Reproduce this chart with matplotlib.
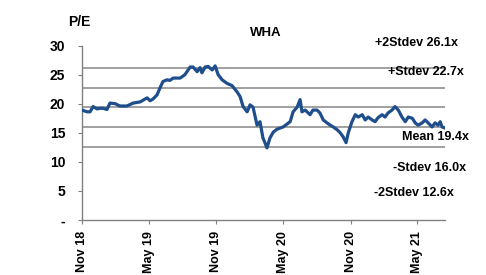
import numpy as np
import matplotlib
matplotlib.use("Agg")
import matplotlib.pyplot as plt
import matplotlib.dates as mdates

plt.rcParams['font.family'] = ['Liberation Sans', 'DejaVu Sans']

# P/E readings (dates, values)
dates = ["2018-11-01", "2018-11-15", "2018-11-23", "2018-12-01", "2018-12-12", "2018-12-20",
         "2018-12-28", "2019-01-08", "2019-01-16", "2019-01-30", "2019-02-12", "2019-03-03",
         "2019-03-20", "2019-04-08", "2019-04-27", "2019-05-05", "2019-05-13", "2019-05-24",
         "2019-06-01", "2019-06-09", "2019-06-20", "2019-06-28", "2019-07-07", "2019-07-26",
         "2019-08-08", "2019-08-22", "2019-08-30", "2019-09-10", "2019-09-18", "2019-09-23",
         "2019-10-02", "2019-10-10", "2019-10-21", "2019-10-29", "2019-11-06", "2019-11-17",
         "2019-11-30", "2019-12-14", "2019-12-28", "2020-01-05", "2020-01-13", "2020-01-24",
         "2020-02-01", "2020-02-09", "2020-02-20", "2020-02-28", "2020-03-07", "2020-03-13",
         "2020-03-18", "2020-03-26", "2020-04-04", "2020-04-14", "2020-05-01", "2020-05-20",
         "2020-05-28", "2020-06-08", "2020-06-16", "2020-06-21", "2020-06-30", "2020-07-13",
         "2020-07-21", "2020-08-01", "2020-08-09", "2020-08-18", "2020-08-28", "2020-09-06",
         "2020-09-14", "2020-09-25", "2020-10-03", "2020-10-11", "2020-10-19", "2020-10-25",
         "2020-11-04", "2020-11-13", "2020-11-21", "2020-12-02", "2020-12-10", "2020-12-18",
         "2020-12-29", "2021-01-06", "2021-01-14", "2021-01-25", "2021-02-02", "2021-02-10",
         "2021-02-21", "2021-03-01", "2021-03-10", "2021-03-20", "2021-03-29", "2021-04-06",
         "2021-04-17", "2021-04-25", "2021-05-03", "2021-05-14", "2021-05-22", "2021-05-30",
         "2021-06-10", "2021-06-18", "2021-06-26", "2021-07-02", "2021-07-07", "2021-07-15"]
pe = [18.9, 18.6, 18.6, 19.5, 19.1, 19.2,
      19.2, 19.0, 20.1, 20.0, 19.6, 19.6,
      20.1, 20.3, 21.0, 20.5, 20.8, 21.5,
      22.7, 23.8, 24.1, 24.0, 24.4, 24.4,
      25.0, 26.3, 26.3, 25.5, 26.2, 25.3,
      26.3, 26.4, 25.8, 26.5, 25.0, 24.1,
      23.5, 23.1, 22.0, 21.2, 19.5, 18.6,
      19.8, 19.4, 16.3, 16.9, 14.1, 13.2,
      12.4, 14.1, 15.1, 15.6, 16.0, 16.9,
      18.6, 19.4, 20.7, 18.6, 18.9, 18.1,
      18.9, 18.9, 18.4, 17.2, 16.7, 16.3,
      16.0, 15.5, 15.0, 14.3, 13.3, 15.0,
      16.9, 18.1, 17.7, 18.1, 17.2, 17.7,
      17.2, 16.9, 17.6, 18.1, 17.7, 18.4,
      18.9, 19.5, 18.9, 17.7, 16.9, 17.7,
      17.5, 16.7, 16.3, 16.7, 17.2, 16.7,
      16.0, 16.7, 16.3, 16.9, 16.0, 15.8]

band_values = [26.1, 22.7, 19.4, 16.0, 12.6]
band_labels = ["+2Stdev 26.1x", "+Stdev 22.7x", "Mean 19.4x", "-Stdev 16.0x", "-2Stdev 12.6x"]
tick_dates = ["2018-11-01", "2019-05-01", "2019-11-01", "2020-05-01", "2020-11-01", "2021-05-01"]
y_ticks = [0, 5, 10, 15, 20, 25, 30]
y_ticklabels = ["-", "5", "10", "15", "20", "25", "30"]

x = np.array(dates, dtype="datetime64[D]")

W, H = 486, 275
fig = plt.figure(figsize=(W / 100, H / 100), dpi=100)
ax = fig.add_axes([82 / W, 1 - 220 / H, (445 - 82) / W, (220 - 45.5) / H])

for v in band_values:
    ax.axhline(v, color="#a0a0a0", lw=1.4, zorder=1)
ax.plot(x, pe, color="#1f4e8c", lw=2.3, zorder=3)

ax.set_xlim(np.datetime64("2018-11-01"), np.datetime64("2021-07-15"))
ax.set_ylim(0, 30)
ax.set_yticks(y_ticks)
ax.set_yticklabels(y_ticklabels, fontsize=10, fontweight="bold")
ax.set_xticks(np.array(tick_dates, dtype="datetime64[D]"))
ax.xaxis.set_major_formatter(mdates.DateFormatter("%b %y"))
for lab in ax.get_xticklabels():
    lab.set_rotation(90)
    lab.set_fontsize(9)
    lab.set_fontweight("bold")

for s in ["top", "right"]:
    ax.spines[s].set_visible(False)
for s in ["left", "bottom"]:
    ax.spines[s].set_color("#808080")
    ax.spines[s].set_linewidth(1.0)
ax.tick_params(axis="both", length=3, color="#808080")
ax.tick_params(axis="y", pad=9)
ax.tick_params(axis="x", pad=5)

fig.text(79 / W, 1 - 22 / H, "P/E", fontsize=10, fontweight="bold", ha="center", va="center")
fig.text(266 / W, 1 - 33 / H, "WHA", fontsize=9.5, fontweight="bold", ha="center", va="center")

label_pos = [(458, 43), (464, 72), (469, 137), (466, 168), (454, 193)]
for (px, py), lab in zip(label_pos, band_labels):
    fig.text(px / W, 1 - py / H, lab, fontsize=9, fontweight="bold", ha="right", va="center")

fig.savefig("out.png", dpi=100)
